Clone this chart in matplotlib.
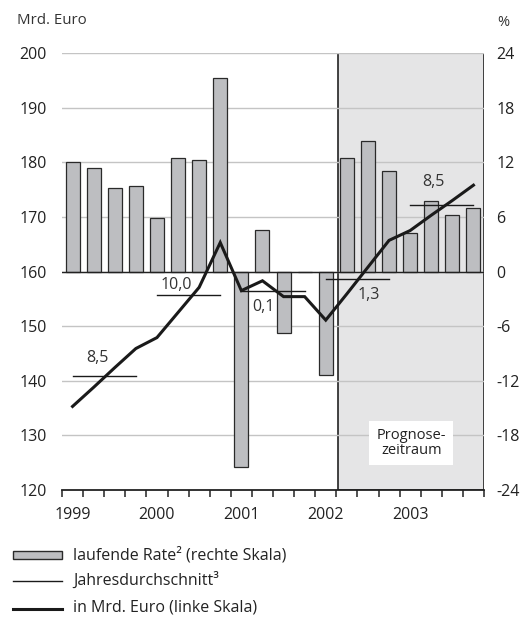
import matplotlib
matplotlib.use('Agg')
import matplotlib.pyplot as plt
from matplotlib.patches import Rectangle
from matplotlib.lines import Line2D
import numpy as np

plt.rcParams['font.family'] = ['Open Sans', 'DejaVu Sans']
plt.rcParams['axes.unicode_minus'] = False

# quarterly data 1999Q1 .. 2003Q4
years = ['1999', '2000', '2001', '2002', '2003']
rate = [12.0, 11.4, 9.2, 9.4, 5.9, 12.5, 12.3, 21.3,
        -21.5, 4.6, -6.8, 0.0, -11.4, 12.5, 14.3, 11.0,
        4.2, 7.7, 6.2, 7.0]
euro = [135.3, 138.8, 142.4, 145.9, 147.9, 152.5, 157.1, 165.3,
        156.5, 158.3, 155.4, 155.4, 151.1, 155.9, 160.8, 165.7,
        167.5, 170.3, 173.0, 175.8]
year_avg = [140.8, 155.7, 156.5, 158.6, 172.1]
year_growth = ['8,5', '10,0', '0,1', '1,3', '8,5']
forecast_start = 13.1

# label offsets from the middle of each average line (pixels)
label_dx = [-7, -12, -10, 11, -8]
label_dy = [18, 10, -16, -16, 23]

x = np.arange(len(rate)) + 0.5

fig = plt.figure(figsize=(5.24, 6.19), dpi=100)
ax2 = fig.add_axes([62/524, 1-490/619, 422/524, 437/619])
ax = ax2.twinx()
ax.set_zorder(ax2.get_zorder() + 1)
ax.patch.set_visible(False)

# right scale: percent (bars, forecast box, grid)
ax2.set_xlim(0, 20)
ax2.set_ylim(-24, 24)
ax2.axvspan(forecast_start, 20, facecolor='#e5e5e6', edgecolor='#222222',
            linewidth=1.2, zorder=0)
for v in range(-18, 25, 6):
    ax2.axhline(v, color='#c4c4c4', linewidth=1.0, zorder=1)
ax2.bar(x, rate, width=0.66, color='#bdbec1', edgecolor='#2a2a2a',
        linewidth=0.9, zorder=2)
ax2.axhline(0, color='#222222', linewidth=1.0, zorder=3)

ax2.yaxis.tick_right()
ax2.set_yticks(range(-24, 25, 6))
ax2.tick_params(axis='y', length=0, pad=9, labelsize=11.5, colors='#222222')

ax2.set_xticks(range(0, 21), minor=True)
ax2.set_xticks([0.5 + 4*i for i in range(len(years))])
ax2.set_xticklabels(years)
ax2.tick_params(axis='x', which='major', length=0, pad=12, labelsize=11.5,
                colors='#222222')
ax2.tick_params(axis='x', which='minor', length=5, width=1.1, color='#222222')
for s in ['left', 'top', 'right']:
    ax2.spines[s].set_visible(False)
ax2.spines['bottom'].set_linewidth(1.3)
ax2.spines['bottom'].set_color('#222222')

# left scale: Mrd. Euro (line, annual averages)
ax.set_ylim(120, 200)
ax.set_yticks(range(120, 201, 10))
ax.yaxis.tick_left()
ax.tick_params(axis='y', length=0, pad=11, labelsize=11.5, colors='#222222')
for s in ['left', 'top', 'right', 'bottom']:
    ax.spines[s].set_visible(False)

ax.plot(x, euro, color='#1a1a1a', linewidth=2.2, zorder=5,
        solid_joinstyle='miter')
for i, (avg, g) in enumerate(zip(year_avg, year_growth)):
    ax.plot([x[4*i], x[4*i + 3]], [avg, avg], color='#1a1a1a',
            linewidth=1.0, zorder=4)
    xm = (x[4*i] + x[4*i + 3]) / 2
    ax.annotate(g, (xm, avg), xytext=(label_dx[i]*0.72, label_dy[i]*0.72),
                textcoords='offset points', ha='center', va='center',
                fontsize=11.5, color='#333333')

ax.text((forecast_start + 20) / 2, 128.6, 'Prognose-\nzeitraum', ha='center',
        va='center', fontsize=10.5, color='#222222', linespacing=1.05,
        zorder=6, bbox=dict(facecolor='white', edgecolor='none', pad=5))

fig.text(17/524, 1-20/619, 'Mrd. Euro', fontsize=10.8, color='#333333',
         ha='left', va='center')
fig.text(497/524, 1-22/619, '%', fontsize=10.5, color='#333333',
         ha='left', va='center')

# legend
tf = fig.transFigure
fig.patches.append(Rectangle((13/524, 1-559/619), 49/524, 8/619,
                             facecolor='#bdbec1', edgecolor='#2a2a2a',
                             linewidth=1.0, transform=tf))
fig.lines.append(Line2D([13/524, 62/524], [1-581/619, 1-581/619],
                        color='#1a1a1a', linewidth=1.0, transform=tf))
fig.lines.append(Line2D([13/524, 62/524], [1-609/619, 1-609/619],
                        color='#1a1a1a', linewidth=2.2, transform=tf))
leg_labels = ['laufende Rate² (rechte Skala)', 'Jahresdurchschnitt³',
              'in Mrd. Euro (linke Skala)']
for lab, yy in zip(leg_labels, [555, 580, 607]):
    fig.text(73/524, 1-yy/619, lab, fontsize=11.5, color='#222222',
             ha='left', va='center')

fig.savefig('out.png', dpi=100)
